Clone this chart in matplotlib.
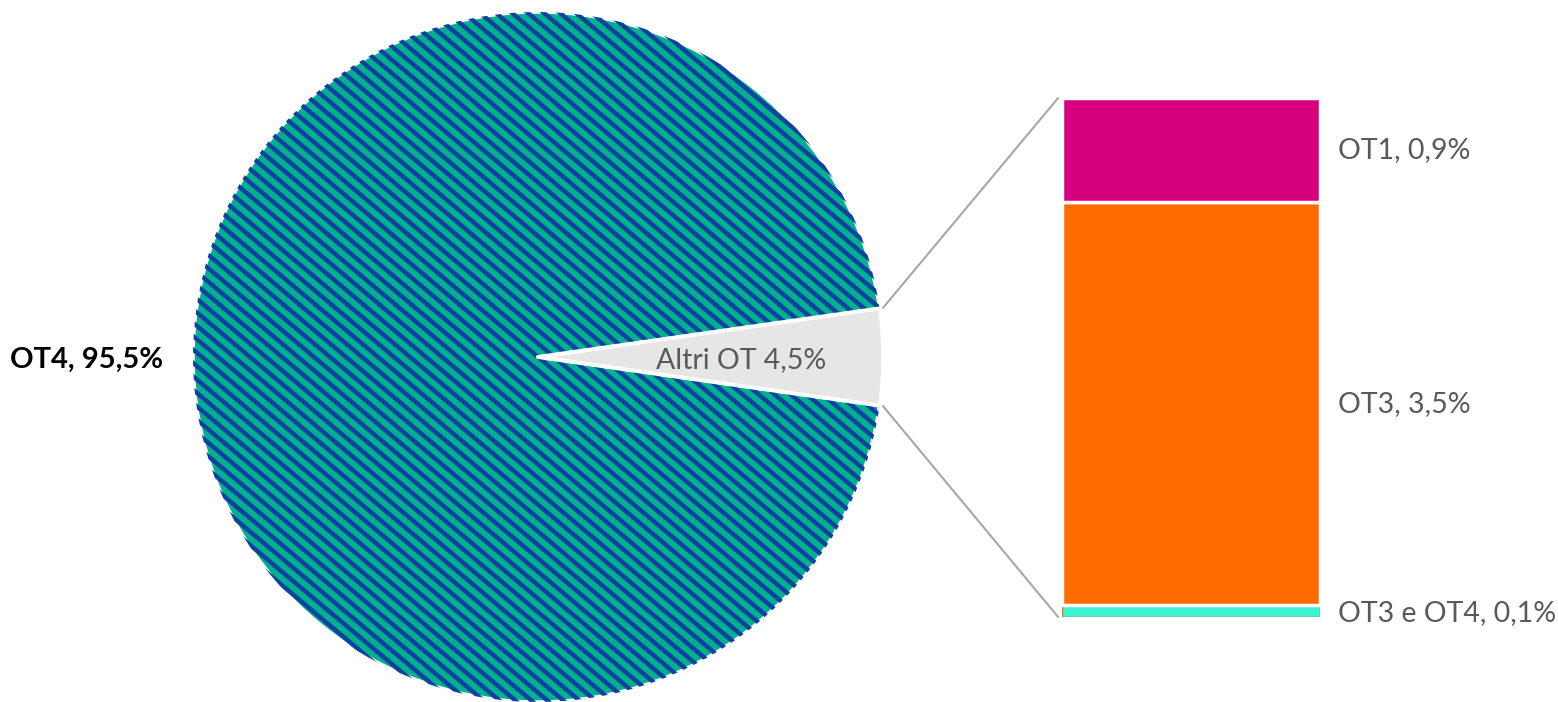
import numpy as np
import matplotlib.pyplot as plt
from matplotlib.collections import LineCollection
from matplotlib.patches import ConnectionPatch

plt.rcParams['font.family'] = ['Lato', 'DejaVu Sans']

# pie data
pie_labels = ["Altri OT 4,5%", "OT4, 95,5%"]
pie_values = [4.5, 95.5]

# breakdown of "Altri OT" (bottom to top)
bar_labels = ["OT3 e OT4, 0,1%", "OT3, 3,5%", "OT1, 0,9%"]
bar_values = [0.1, 3.5, 0.9]
bar_colors = ["#3ff2d2", "#ff6a00", "#d6007e"]

green = "#00b08e"
blue = "#0f42a0"
grey_txt = "#595959"

W, H = 1558, 702
fig = plt.figure(figsize=(W / 100, H / 100), dpi=100)

# ---- pie ----
ax1 = fig.add_axes([(538 - 345) / W, (H - 357 - 345) / H, 690 / W, 690 / H])

half = pie_values[0] / 100 * 360 / 2
wedges, _ = ax1.pie(pie_values, colors=["#e6e6e6", green], startangle=-half,
                    radius=1, center=(0, 0), frame=False,
                    wedgeprops=dict(edgecolor="white", linewidth=2.5))
ax1.set_xlim(-1, 1)
ax1.set_ylim(-1, 1)
ax1.set_aspect("equal")
ax1.axis("off")

# diagonal stripes on the big slice
theta = np.deg2rad(40)
h = 16 / 345
segs = []
for k in range(-60, 61):
    x0 = k * h
    segs.append([(x0 - 3 * np.cos(theta), 3 * np.sin(theta)),
                 (x0 + 3 * np.cos(theta), -3 * np.sin(theta))])
lc = LineCollection(segs, colors=blue, linewidths=3.2, capstyle="butt")
ax1.add_collection(lc)
lc.set_clip_path(wedges[1])

# white separators between the slices
for s in (1, -1):
    a = np.deg2rad(s * half)
    ax1.plot([0, np.cos(a)], [0, np.sin(a)], color="white", linewidth=2.8,
             solid_capstyle="round")

ax1.text(0.59, -0.01, pie_labels[0], ha="center", va="center",
         fontsize=20.5, color=grey_txt)
fig.text(163 / W, 1 - 360 / H, pie_labels[1], ha="right", va="center",
         fontsize=21, fontweight="bold", color="black")

# ---- stacked bar ----
ax2 = fig.add_axes([1062 / W, (H - 617) / H, 258 / W, 519 / H])
ax2.set_xlim(-0.5, 0.5)
ax2.set_ylim(0, sum(bar_values))
ax2.axis("off")

bottom = 0
for lab, val, col in zip(bar_labels, bar_values, bar_colors):
    if val < 0.5:
        ax2.bar(0, val, bottom=bottom, width=1, color=col,
                edgecolor="#ff6a00", linewidth=1)
    else:
        ax2.bar(0, val, bottom=bottom, width=1, color=col,
                edgecolor="white", linewidth=2.5)
    ax2.text(0.57, bottom + val / 2 - (0.02 if val < 0.5 else 0), lab,
             ha="left", va="center", fontsize=20.5, color=grey_txt,
             clip_on=False)
    bottom += val

# connector lines
for sgn, y in [(1, sum(bar_values)), (-1, 0)]:
    a = np.deg2rad(sgn * half)
    con = ConnectionPatch(xyA=(1.01 * np.cos(a), 1.01 * np.sin(a)), coordsA=ax1.transData,
                          xyB=(-0.515, y), coordsB=ax2.transData,
                          color="#a6a6a6", linewidth=1.5)
    fig.add_artist(con)

fig.savefig("out.png", dpi=100)
